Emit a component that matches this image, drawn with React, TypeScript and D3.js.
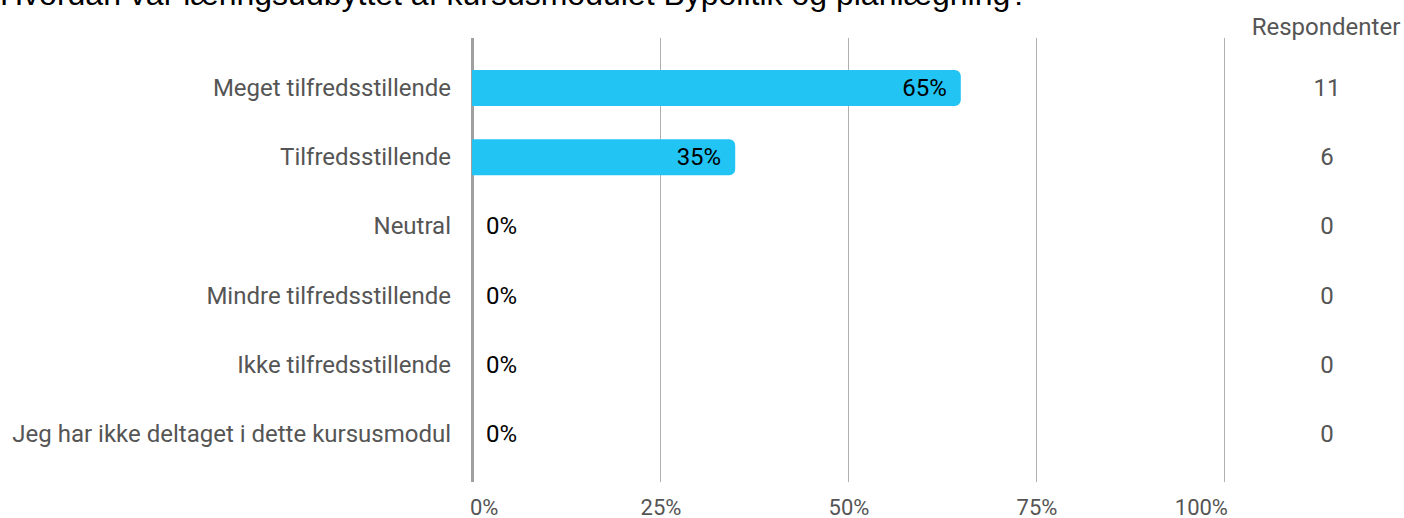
import * as d3 from "d3";

const title = "Hvordan var læringsudbyttet af kursusmodulet Bypolitik og planlægning?";
const categories = [
  "Meget tilfredsstillende",
  "Tilfredsstillende",
  "Neutral",
  "Mindre tilfredsstillende",
  "Ikke tilfredsstillende",
  "Jeg har ikke deltaget i dette kursusmodul",
];
const shares = [65, 35, 0, 0, 0, 0];
const respondents = [11, 6, 0, 0, 0, 0];
const ticks = [0, 25, 50, 75, 100];

const W = 1404;
const H = 518;
const font = "Roboto, 'Noto Sans', sans-serif";

export default function App() {
  const x = d3.scaleLinear().domain([0, 100]).range([472, 1224]);
  const y = d3.scalePoint<string>().domain(categories).range([88, 434]);
  const gridTop = 38;
  const gridBottom = 482;
  const barH = 36;
  const r = 6;

  // bar with square left edge, rounded right edge
  const barPath = (v: number, cy: number) => {
    const x0 = x(0);
    const x1 = x(v);
    const t = cy - barH / 2;
    const b = cy + barH / 2;
    const p = d3.path();
    p.moveTo(x0, t);
    p.lineTo(x1 - r, t);
    p.arcTo(x1, t, x1, t + r, r);
    p.lineTo(x1, b - r);
    p.arcTo(x1, b, x1 - r, b, r);
    p.lineTo(x0, b);
    p.closePath();
    return p.toString();
  };

  return (
    <svg
      width={W}
      height={H}
      style={{ position: "absolute", left: 0, top: 0, background: "#fff" }}
    >
      <text x={0} y={5} fontFamily="'Liberation Sans', Arial, sans-serif" fontSize={32} fill="#000">
        {title}
      </text>

      {ticks.map((t) => (
        <line
          key={"g" + t}
          x1={x(t)}
          x2={x(t)}
          y1={gridTop}
          y2={gridBottom}
          stroke={t === 0 ? "#a0a0a0" : "#b0b0b0"}
          strokeWidth={t === 0 ? 3 : 1}
          shapeRendering="crispEdges"
        />
      ))}

      {categories.map((c, i) => {
        const cy = y(c)!;
        const v = shares[i];
        return (
          <g key={c}>
            <text
              x={451}
              y={cy + 8}
              textAnchor="end"
              fontFamily={font}
              fontSize={24}
              fill="#555"
            >
              {c}
            </text>
            {v > 0 && <path d={barPath(v, cy)} fill="#22c4f4" />}
            <text
              x={v > 0 ? x(v) - 14 : x(0) + 14}
              y={cy + 8}
              textAnchor={v > 0 ? "end" : "start"}
              fontFamily={font}
              fontSize={24}
              fill="#000"
            >
              {v + "%"}
            </text>
            <text
              x={1327}
              y={cy + 8}
              textAnchor="middle"
              fontFamily={font}
              fontSize={24}
              fill="#555"
            >
              {respondents[i]}
            </text>
          </g>
        );
      })}

      <text x={1326} y={35} textAnchor="middle" fontFamily={font} fontSize={24} fill="#555">
        Respondenter
      </text>

      {ticks.map((t, i) => (
        <text
          key={"t" + t}
          x={i === 0 ? x(t) - 2 : i === ticks.length - 1 ? x(t) + 4 : x(t) + 1}
          y={515}
          textAnchor={i === 0 ? "start" : i === ticks.length - 1 ? "end" : "middle"}
          fontFamily={font}
          fontSize={22}
          fill="#555"
        >
          {t + "%"}
        </text>
      ))}
    </svg>
  );
}
